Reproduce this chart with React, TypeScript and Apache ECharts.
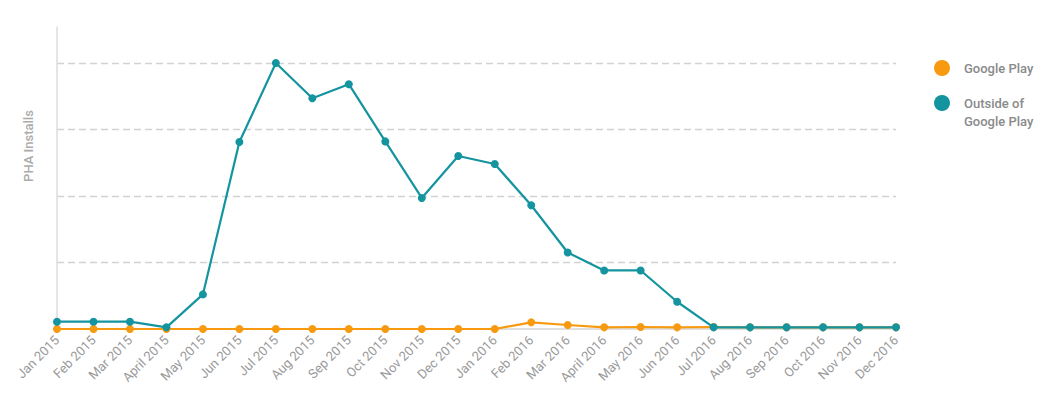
import React, { useEffect, useRef } from "react";
import * as echarts from "echarts";

const months = [
  "Jan 2015", "Feb 2015", "Mar 2015", "April 2015", "May 2015", "Jun 2015",
  "Jul 2015", "Aug 2015", "Sep 2015", "Oct 2015", "Nov 2015", "Dec 2015",
  "Jan 2016", "Feb 2016", "Mar 2016", "April 2016", "May 2016", "Jun 2016",
  "Jul 2016", "Aug 2016", "Sep 2016", "Oct 2016", "Nov 2016", "Dec 2016",
];

const googlePlay = [
  0, 0, 0, 0, 0, 0, 0, 0, 0, 0, 0, 0,
  0, 10, 6, 2.5, 3, 2.5, 3, 2.5, 2.5, 2.5, 2.5, 2.5,
];

const outsideGooglePlay = [
  11, 11, 11, 2.5, 52, 281, 400, 347, 368, 282, 197, 260,
  248, 186, 115, 88, 88, 41, 2.5, 2.5, 2.5, 2.5, 2.5, 2.5,
];

const seriesNames = ["Google Play", "Outside of Google Play"];
const legendLines = [["Google Play"], ["Outside of", "Google Play"]];
const colors = ["#F89A10", "#13949F"];

export default function App() {
  const ref = useRef<HTMLDivElement>(null);

  useEffect(() => {
    if (!ref.current) return;
    document.body.style.margin = "0";
    const chart = echarts.init(ref.current, undefined, { renderer: "svg" });
    const font = "Roboto, 'Noto Sans', sans-serif";
    chart.setOption({
      animation: false,
      textStyle: { fontFamily: font },
      grid: { left: 57, right: 160, top: 27, bottom: 68, containLabel: false },
      xAxis: {
        type: "category",
        data: months,
        boundaryGap: false,
        axisLine: { show: true, lineStyle: { color: "#d6d6d6", width: 1.5 } },
        axisTick: { show: false },
        axisLabel: {
          rotate: 45,
          margin: 9,
          color: "#9a9a9a",
          fontSize: 13,
          fontFamily: font,
          interval: 0,
        },
        splitLine: { show: false },
      },
      yAxis: {
        type: "value",
        min: 0,
        max: 454,
        interval: 100,
        axisLine: { show: true, lineStyle: { color: "#dcdcdc", width: 1.5 } },
        axisTick: { show: false },
        axisLabel: { show: false },
        splitLine: {
          show: true,
          showMinLine: false,
          showMaxLine: false,
          lineStyle: { color: "#d2d2d2", type: [7, 4], width: 1.3 },
        },
      },
      series: [
        {
          name: seriesNames[0],
          type: "line",
          data: googlePlay,
          symbol: "circle",
          symbolSize: 8,
          itemStyle: { color: colors[0] },
          lineStyle: { color: colors[0], width: 2.2 },
          z: 2,
        },
        {
          name: seriesNames[1],
          type: "line",
          data: outsideGooglePlay,
          symbol: "circle",
          symbolSize: 8,
          itemStyle: { color: colors[1] },
          lineStyle: { color: colors[1], width: 2.2 },
          z: 3,
        },
      ],
      graphic: [
        {
          type: "text",
          x: 28,
          y: 146,
          rotation: Math.PI / 2,
          style: {
            text: "PHA Installs",
            fill: "#ababab",
            font: `500 13px ${font}`,
            align: "center",
            verticalAlign: "middle",
          },
        },
        {
          type: "circle",
          shape: { cx: 942, cy: 68, r: 8 },
          style: { fill: colors[0] },
        },
        {
          type: "text",
          x: 964,
          y: 68,
          style: {
            text: legendLines[0].join("\n"),
            fill: "#8a8a8a",
            font: `500 13px ${font}`,
            verticalAlign: "middle",
          },
        },
        {
          type: "circle",
          shape: { cx: 942, cy: 103, r: 8 },
          style: { fill: colors[1] },
        },
        {
          type: "text",
          x: 964,
          y: 94,
          style: {
            text: legendLines[1].join("\n"),
            fill: "#8a8a8a",
            font: `500 13px ${font}`,
            lineHeight: 18,
            verticalAlign: "top",
          },
        },
      ],
    });
    return () => chart.dispose();
  }, []);

  return <div ref={ref} style={{ width: 1056, height: 397 }} />;
}
